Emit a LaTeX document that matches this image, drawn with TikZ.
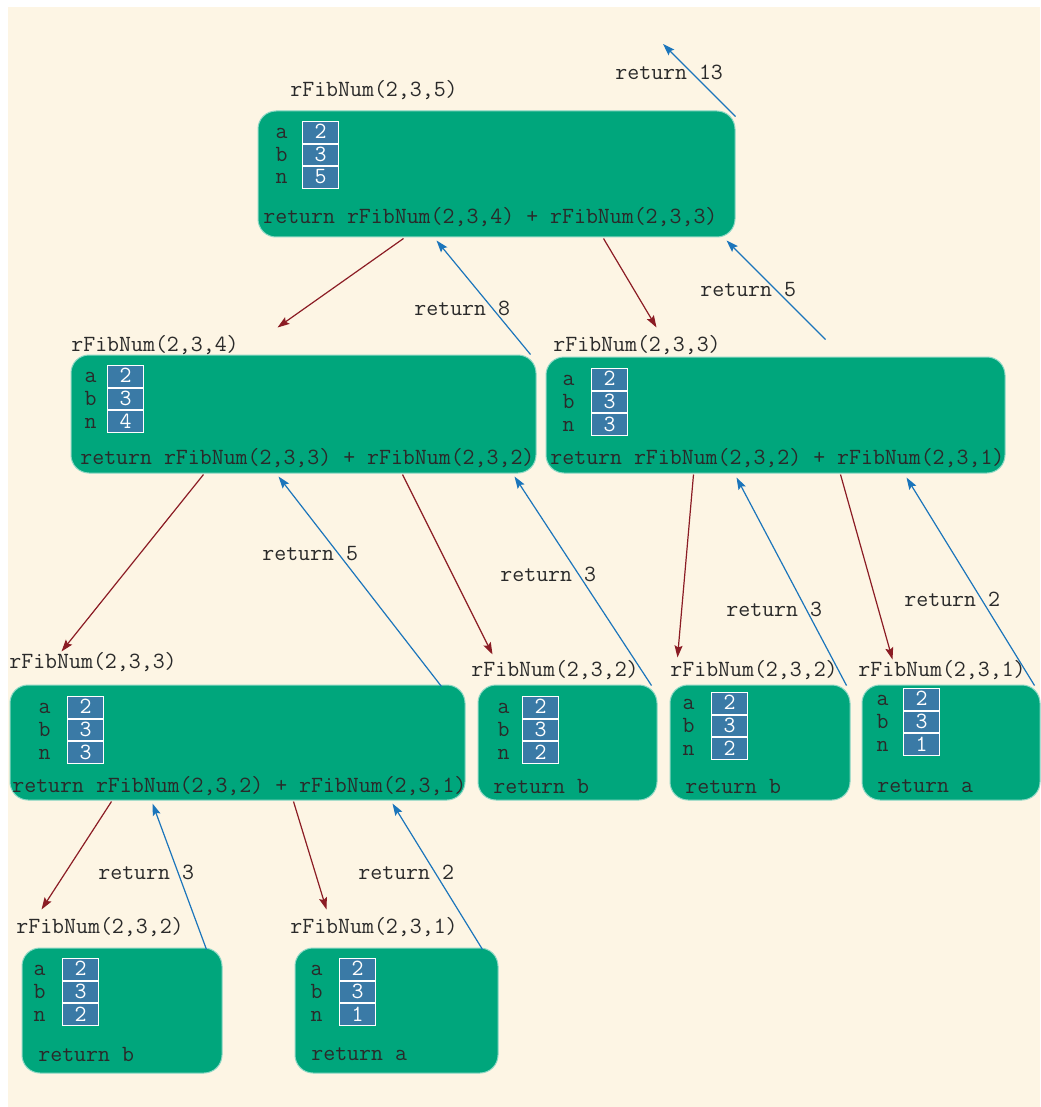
\documentclass[tikz,border=0pt]{standalone}
\usepackage{fontspec}
\usetikzlibrary{arrows.meta,calc,fit,positioning}
\definecolor{StackCream}{HTML}{FDF5E4}
\definecolor{StackGreen}{HTML}{00A67C}
\definecolor{StackCell}{HTML}{3A7AA6}
\definecolor{StackInk}{HTML}{2A2A2A}
\definecolor{StackRed}{HTML}{8B1C24}
\definecolor{StackBlue}{HTML}{1B75BB}
\tikzset{
  stack/frame/.style={
    fill=StackGreen, draw=white!55!StackGreen, line width=.5pt,
    rounded corners=9pt, inner sep=0pt
  },
  stack/text/.style={
    font=\ttfamily\fontsize{11.6}{12}\selectfont, text=StackInk,
    inner sep=0pt, anchor=west
  },
  stack/cell/.style={
    draw=white, line width=.5pt, fill=StackCell, text=white,
    minimum width=18pt, minimum height=10.85pt, inner sep=0pt,
    text height=1.45ex, text depth=0pt,
    font=\ttfamily\fontsize{11.6}{12}\selectfont
  },
  stack/var/.style={
    font=\ttfamily\fontsize{11.6}{12}\selectfont, text=StackInk,
    inner sep=0pt, text height=1.45ex, text depth=0pt
  },
  stack/call/.style={
    -{Stealth[length=6pt,width=4pt,inset=1pt]}, line width=.6pt, draw=StackRed
  },
  stack/return/.style={
    -{Stealth[length=6pt,width=4pt,inset=1pt]}, line width=.6pt, draw=StackBlue
  }
}

\begin{document}
\begin{tikzpicture}[x=.5pt,y=-.5pt]
  \useasboundingbox (0,0) rectangle (1040,1107);
  \fill[StackCream] (8,7) rectangle (1040,1107);

  % frames
  \node[stack/frame,fit={(258,111) (735,237)}] (f5) {};
  \node[stack/frame,fit={(71,355) (536,473)}] (f4) {};
  \node[stack/frame,fit={(546,357) (1005,473)}] (f3) {};
  \node[stack/frame,fit={(10,685) (465,800)}] (f3b) {};
  \node[stack/frame,fit={(478,685) (657,800)}] (f2) {};
  \node[stack/frame,fit={(670,685) (850,800)}] (f2b) {};
  \node[stack/frame,fit={(862,685) (1040,800)}] (f1) {};
  \node[stack/frame,fit={(22,948) (222,1073)}] (f2c) {};
  \node[stack/frame,fit={(295,948) (498,1073)}] (f1b) {};

  % call labels
  \node[stack/text] (c5) at (290,90) {rFibNum(2,3,5)};
  \node[stack/text] (c4) at (71,345) {rFibNum(2,3,4)};
  \node[stack/text] (c3) at (553,345) {rFibNum(2,3,3)};
  \node[stack/text] (c3b) at (9,662) {rFibNum(2,3,3)};
  \node[stack/text] (c2) at (471,670) {rFibNum(2,3,2)};
  \node[stack/text] (c2b) at (670,670) {rFibNum(2,3,2)};
  \node[stack/text] (c1) at (858,670) {rFibNum(2,3,1)};
  \node[stack/text] (c2c) at (16,927) {rFibNum(2,3,2)};
  \node[stack/text] (c1b) at (290,927) {rFibNum(2,3,1)};

  % variables
  \node[stack/cell,anchor=north west] (f5a) at (302,121) {2};
  \node[stack/cell,below=0pt of f5a] (f5b) {3};
  \node[stack/cell,below=0pt of f5b] (f5n) {5};
  \node[stack/var,left=7pt of f5a] {a};
  \node[stack/var,left=7pt of f5b] {b};
  \node[stack/var,left=7pt of f5n] {n};

  \node[stack/cell,anchor=north west] (f4a) at (107,365) {2};
  \node[stack/cell,below=0pt of f4a] (f4b) {3};
  \node[stack/cell,below=0pt of f4b] (f4n) {4};
  \node[stack/var,left=5pt of f4a] {a};
  \node[stack/var,left=5pt of f4b] {b};
  \node[stack/var,left=5pt of f4n] {n};

  \node[stack/cell,anchor=north west] (f3a) at (591,368) {2};
  \node[stack/cell,below=0pt of f3a] (f3bb) {3};
  \node[stack/cell,below=0pt of f3bb] (f3n) {3};
  \node[stack/var,left=8pt of f3a] {a};
  \node[stack/var,left=8pt of f3bb] {b};
  \node[stack/var,left=8pt of f3n] {n};

  \node[stack/cell,anchor=north west] (f3ba) at (67,696) {2};
  \node[stack/cell,below=0pt of f3ba] (f3bbb) {3};
  \node[stack/cell,below=0pt of f3bbb] (f3bn) {3};
  \node[stack/var,left=8pt of f3ba] {a};
  \node[stack/var,left=8pt of f3bbb] {b};
  \node[stack/var,left=8pt of f3bn] {n};

  \node[stack/cell,anchor=north west] (f2a) at (522,696) {2};
  \node[stack/cell,below=0pt of f2a] (f2bb) {3};
  \node[stack/cell,below=0pt of f2bb] (f2n) {2};
  \node[stack/var,left=6pt of f2a] {a};
  \node[stack/var,left=6pt of f2bb] {b};
  \node[stack/var,left=6pt of f2n] {n};

  \node[stack/cell,anchor=north west] (f2ba) at (711,692) {2};
  \node[stack/cell,below=0pt of f2ba] (f2bbb) {3};
  \node[stack/cell,below=0pt of f2bbb] (f2bn) {2};
  \node[stack/var,left=8pt of f2ba] {a};
  \node[stack/var,left=8pt of f2bbb] {b};
  \node[stack/var,left=8pt of f2bn] {n};

  \node[stack/cell,anchor=north west] (f1a) at (903,688) {2};
  \node[stack/cell,below=0pt of f1a] (f1bb) {3};
  \node[stack/cell,below=0pt of f1bb] (f1n) {1};
  \node[stack/var,left=7pt of f1a] {a};
  \node[stack/var,left=7pt of f1bb] {b};
  \node[stack/var,left=7pt of f1n] {n};

  \node[stack/cell,anchor=north west] (f2ca) at (62,958) {2};
  \node[stack/cell,below=0pt of f2ca] (f2cb) {3};
  \node[stack/cell,below=0pt of f2cb] (f2cn) {2};
  \node[stack/var,left=8pt of f2ca] {a};
  \node[stack/var,left=8pt of f2cb] {b};
  \node[stack/var,left=8pt of f2cn] {n};

  \node[stack/cell,anchor=north west] (f1ba) at (339,958) {2};
  \node[stack/cell,below=0pt of f1ba] (f1bbb) {3};
  \node[stack/cell,below=0pt of f1bbb] (f1bn) {1};
  \node[stack/var,left=8pt of f1ba] {a};
  \node[stack/var,left=8pt of f1bbb] {b};
  \node[stack/var,left=8pt of f1bn] {n};

  % return lines
  \node[stack/text] (r5) at (263,217) {return rFibNum(2,3,4) + rFibNum(2,3,3)};
  \node[stack/text] (r4) at (80,458) {return rFibNum(2,3,3) + rFibNum(2,3,2)};
  \node[stack/text] (r3) at (550,458) {return rFibNum(2,3,2) + rFibNum(2,3,1)};
  \node[stack/text] (r3b) at (12,786) {return rFibNum(2,3,2) + rFibNum(2,3,1)};
  \node[stack/text] (r2) at (493,786) {return b};
  \node[stack/text] (r2b) at (685,786) {return b};
  \node[stack/text] (r1) at (877,786) {return a};
  \node[stack/text] (r2c) at (38,1054) {return b};
  \node[stack/text] (r1b) at (311,1054) {return a};

  % returned values
  \node[stack/text] (v13) at (615,72) {return 13};
  \node[stack/text] (v8) at (414,308) {return 8};
  \node[stack/text] (v5) at (700,290) {return 5};
  \node[stack/text] (v5b) at (262,554) {return 5};
  \node[stack/text] (v3) at (500,574) {return 3};
  \node[stack/text] (v3b) at (726,609) {return 3};
  \node[stack/text] (v2) at (904,599) {return 2};
  \node[stack/text] (v3c) at (98,872) {return 3};
  \node[stack/text] (v2b) at (358,872) {return 2};
  \coordinate (out) at (663,44);

  % calls
  \draw[stack/call] ($(f5.south west)+(146,1)$) -- ($(f4.north west)+(207,-27)$);
  \draw[stack/call] ($(f5.south west)+(346,1)$) -- ($(f3.north west)+(111,-29)$);
  \draw[stack/call] ($(f4.south west)+(133,1)$) -- ($(f3b.north west)+(52,-33)$);
  \draw[stack/call] ($(f4.south west)+(332,1)$) -- ($(f2.north west)+(15,-30)$);
  \draw[stack/call] ($(f3.south west)+(148,1)$) -- ($(f2b.north west)+(8,-27)$);
  \draw[stack/call] ($(f3.south west)+(295,1)$) -- ($(f1.north west)+(31,-25)$);
  \draw[stack/call] ($(f3b.south west)+(102,1)$) -- ($(f2c.north west)+(20,-38)$);
  \draw[stack/call] ($(f3b.south west)+(284,1)$) -- ($(f1b.north west)+(32,-38)$);

  % returns
  \draw[stack/return] ($(f5.north east)+(0,6)$) -- (out);
  \draw[stack/return] ($(f4.north east)+(-6,0)$) -- ($(f5.south west)+(179,3)$);
  \draw[stack/return] ($(f3.north east)+(-180,-17)$) -- ($(f5.south east)+(-9,3)$);
  \draw[stack/return] ($(f3b.north east)+(-24,2)$) -- ($(f4.south west)+(208,3)$);
  \draw[stack/return] ($(f2.north east)+(-6,1)$) -- ($(f4.south west)+(444,3)$);
  \draw[stack/return] ($(f2b.north east)+(-4,1)$) -- ($(f3.south west)+(191,4)$);
  \draw[stack/return] ($(f1.north east)+(-6,1)$) -- ($(f3.south west)+(361,4)$);
  \draw[stack/return] ($(f2c.north east)+(-16,2)$) -- ($(f3b.south west)+(143,3)$);
  \draw[stack/return] ($(f1b.north east)+(-16,2)$) -- ($(f3b.south west)+(383,3)$);
\end{tikzpicture}
\end{document}
